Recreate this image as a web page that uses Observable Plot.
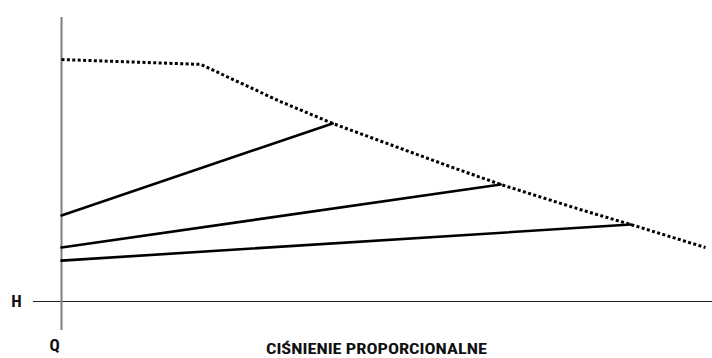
<!DOCTYPE html>
<html>
<head>
<meta charset="utf-8">
<script src="https://cdn.jsdelivr.net/npm/d3@7"></script>
<script src="https://cdn.jsdelivr.net/npm/@observablehq/plot@0.6"></script>
<style>
  html, body { margin: 0; padding: 0; background: #fff; }
  #chart svg { display: block; }
  #chart svg .dotted path { stroke-dasharray: 3 2.4 !important; stroke-linecap: butt; }
</style>
</head>
<body>
<div id="chart"></div>
<script>
// Maximum curve (dotted): Q, H in relative units
const maxQ = [0, 21.6, 34.0, 42.1, 60.7, 68.2, 81.1, 88.4, 100];
const maxH = [85.2, 83.5, 70.4, 62.7, 47.2, 41.2, 32.0, 27.1, 19.0];

// Proportional-pressure lines: start H at Q=0, end point on max curve
const lineNames = ["p1", "p2", "p3"];
const lineStartH = [30.3, 19.0, 14.4];
const lineEndQ = [42.1, 68.2, 88.4];
const lineEndH = [62.7, 41.2, 27.1];

const labelH = "H";
const labelQ = "Q";
const title = "CIŚNIENIE PROPORCIONALNE";

const maxCurve = maxQ.map((q, i) => ({q, h: maxH[i]}));
const propLines = lineNames.flatMap((name, i) => [
  {name, q: 0, h: lineStartH[i]},
  {name, q: lineEndQ[i], h: lineEndH[i]}
]);

const font = "'Liberation Sans Narrow', 'Roboto Condensed', 'DejaVu Sans Condensed', sans-serif";

const chart = Plot.plot({
  width: 712,
  height: 358,
  margin: 0,
  style: {background: "#fff", overflow: "visible"},
  x: {domain: [0, 100], range: [61, 705], axis: null},
  y: {domain: [0, 100], range: [301, 17], axis: null},
  marks: [
    Plot.ruleY([0], {x1: -4.35, x2: 101.2, stroke: "#222", strokeWidth: 1.2}),
    Plot.ruleX([0], {y1: -10.2, y2: 100, stroke: "#7f7f7f", strokeWidth: 2}),
    Plot.line(propLines, {x: "q", y: "h", z: "name", stroke: "#000", strokeWidth: 2.6}),
    Plot.line(maxCurve, {x: "q", y: "h", stroke: "#000", strokeWidth: 3, strokeDasharray: "3 2.4", strokeLinecap: "butt", className: "dotted"}),
    Plot.text([labelH], {x: -7.0, y: 0, text: d => d, fontSize: 17, fontWeight: "bold", fontFamily: font, fill: "#111"}),
    Plot.text([labelQ], {x: -1.05, y: -15.6, text: d => d, fontSize: 17, fontWeight: "bold", fontFamily: font, fill: "#111"}),
    Plot.text([title], {x: 48.9, y: -16.8, text: d => d, fontSize: 15.5, fontWeight: "bold", fontFamily: font, fill: "#111", className: "title"})
  ]
});
chart.querySelectorAll(".title text").forEach(t => {
  t.setAttribute("textLength", "221");
  t.setAttribute("lengthAdjust", "spacingAndGlyphs");
});
document.getElementById("chart").appendChild(chart);
</script>
</body>
</html>
